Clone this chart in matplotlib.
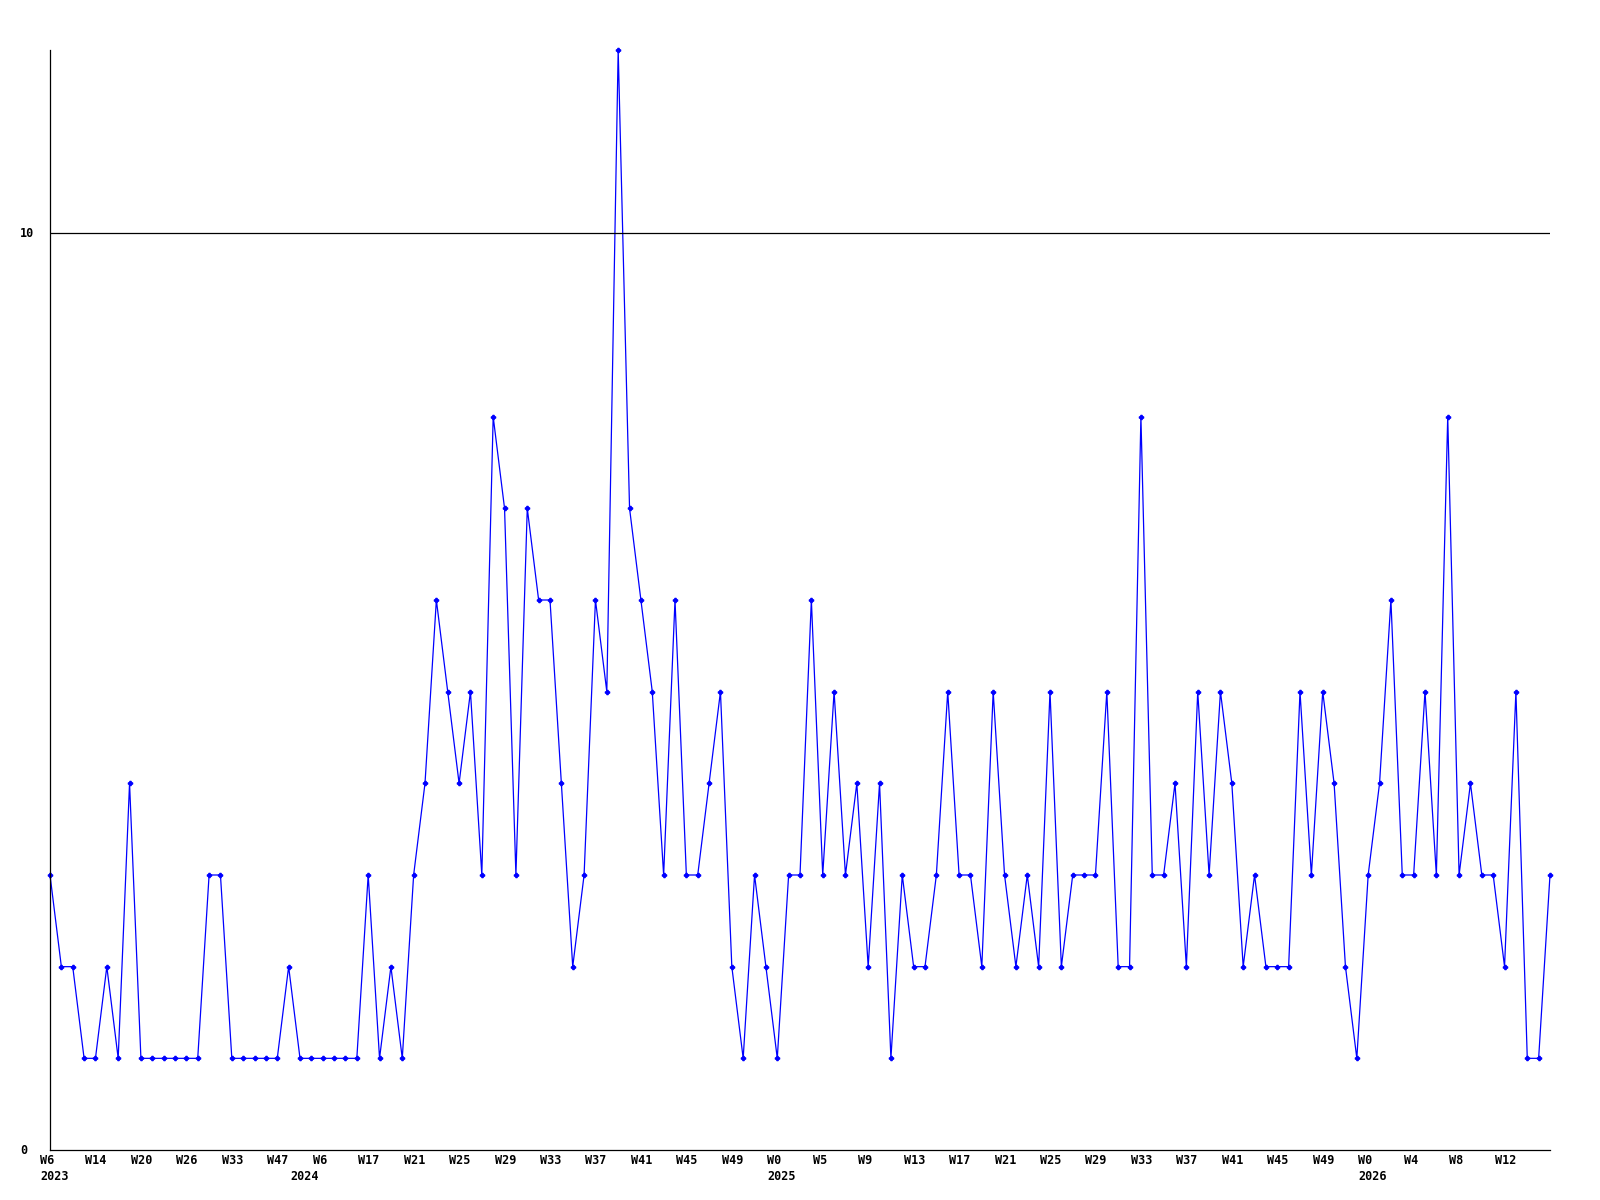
import numpy as np
import matplotlib.pyplot as plt
from matplotlib import transforms

# weekly counts, one value per week
counts = [3, 2, 2, 1, 1, 2, 1, 4, 1, 1, 1, 1, 1, 1, 3, 3, 1, 1, 1, 1,
          1, 2, 1, 1, 1, 1, 1, 1, 3, 1, 2, 1, 3, 4, 6, 5, 4, 5, 3, 8,
          7, 3, 7, 6, 6, 4, 2, 3, 6, 5, 12, 7, 6, 5, 3, 6, 3, 3, 4, 5,
          2, 1, 3, 2, 1, 3, 3, 6, 3, 5, 3, 4, 2, 4, 1, 3, 2, 2, 3, 5,
          3, 3, 2, 5, 3, 2, 3, 2, 5, 2, 3, 3, 3, 5, 2, 2, 8, 3, 3, 4,
          2, 5, 3, 5, 4, 2, 3, 2, 2, 2, 5, 3, 5, 4, 2, 1, 3, 4, 6, 3,
          3, 5, 3, 8, 3, 4, 3, 3, 2, 5, 1, 1, 3]

week_labels = ['W6', 'W14', 'W20', 'W26', 'W33', 'W47', 'W6', 'W17', 'W21',
               'W25', 'W29', 'W33', 'W37', 'W41', 'W45', 'W49', 'W0', 'W5',
               'W9', 'W13', 'W17', 'W21', 'W25', 'W29', 'W33', 'W37', 'W41',
               'W45', 'W49', 'W0', 'W4', 'W8', 'W12']
year_labels = ['2023', '2024', '2025', '2026']
year_points = [0, 22, 64, 116]   # index of the week where the year label sits
y_labels = [0, 10]


def main():
    x = np.arange(len(counts))
    fig = plt.figure(figsize=(16, 12), dpi=100)
    ax = fig.add_axes([50 / 1600, 50 / 1200, 1500 / 1600, 1100 / 1200])

    ax.plot(x, counts, color='#0000ff', lw=0.9, marker='P', ms=3, clip_on=False)
    ax.axhline(10, color='black', lw=0.9)

    ax.set_xlim(0, len(counts) - 1)
    ax.set_ylim(0, 12)
    for s in ['top', 'right']:
        ax.spines[s].set_visible(False)
    for s in ['left', 'bottom']:
        ax.spines[s].set_linewidth(0.9)
    ax.set_xticks([])
    ax.set_yticks([])

    font = dict(family='DejaVu Sans Mono', fontweight='bold', fontsize=8.5)

    # y labels, left aligned near the figure edge
    ytr = transforms.blended_transform_factory(fig.transFigure, ax.transData)
    for v in y_labels:
        ax.text(20 / 1600, v, str(v), transform=ytr, ha='left', va='center', **font)

    # week labels every 4 points, years underneath
    xtr = transforms.blended_transform_factory(ax.transData, ax.transAxes)
    week_x = x[::4][:len(week_labels)]
    tr_week = xtr + transforms.ScaledTranslation(-10 / 100, -11 / 100, fig.dpi_scale_trans)
    tr_year = xtr + transforms.ScaledTranslation(-10 / 100, -27 / 100, fig.dpi_scale_trans)
    for xi, lab in zip(week_x, week_labels):
        ax.text(xi, 0, lab, transform=tr_week, ha='left', va='center', **font)
    for xi, lab in zip(year_points, year_labels):
        ax.text(x[xi], 0, lab, transform=tr_year, ha='left', va='center', **font)

    fig.savefig('out.png', dpi=100)


if __name__ == "__main__":
    main()
